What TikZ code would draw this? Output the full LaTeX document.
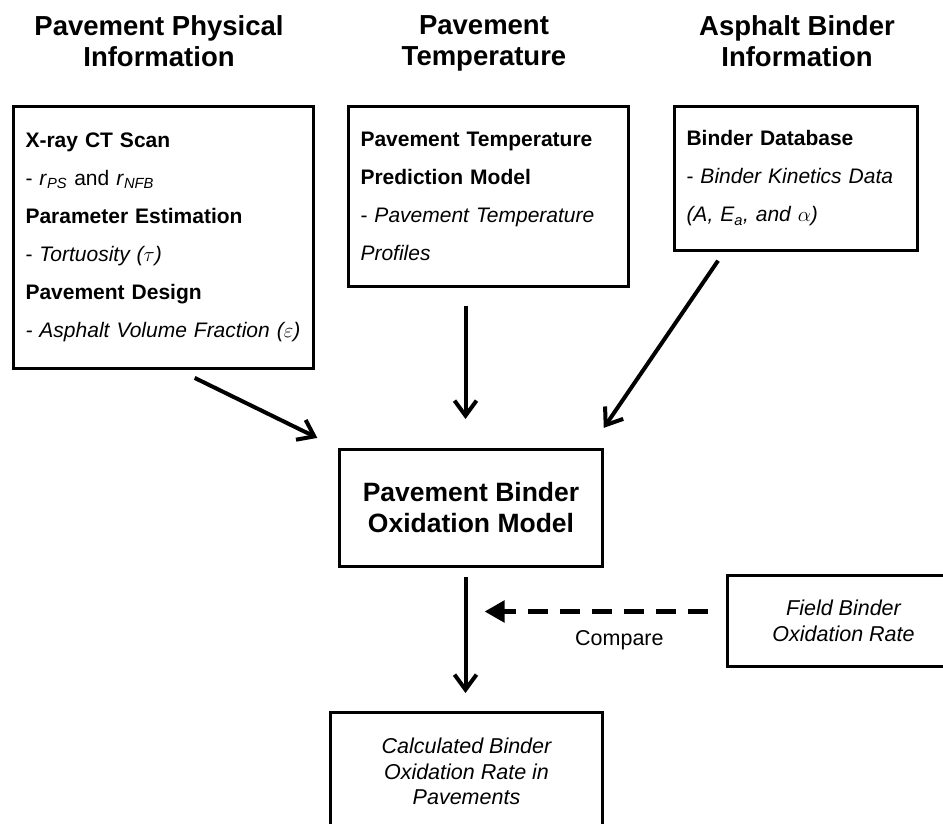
\documentclass[tikz,border=0pt]{standalone}
\usepackage{fontspec}
\setmainfont{Liberation Sans}
\usetikzlibrary{arrows.meta,positioning}

\tikzset{
	box/.style={draw,line width=3pt,anchor=north west,inner xsep=12pt,inner ysep=0pt},
	info/.style={box,align=left,font=\fontsize{21}{38}\selectfont},
	result/.style={box,align=center,font=\fontsize{21.5}{25.5}\selectfont\itshape},
	heading/.style={align=center,anchor=north,inner sep=0pt,font=\fontsize{27.5}{31}\selectfont\bfseries},
	arr/.style={line width=4pt,-{Straight Barb[length=15pt,width=22pt]}},
	cmp/.style={line width=5pt,dash pattern=on 20pt off 12pt,-{Triangle[length=20pt,width=21pt]}}
}

\begin{document}
\begin{tikzpicture}[x=1pt,y=-1pt]
	\useasboundingbox (0,0) rectangle (943,824);

	\node[heading] (hphys) at (159,15) {Pavement Physical\\Information};
	\node[heading] (htemp) at (484,15) {Pavement\\Temperature};
	\node[heading] (hbind) at (797,15) {Asphalt Binder\\Information};

	\node[info,minimum width=300pt,minimum height=262pt,text width=276pt] (phys) at (12,105)
		{\textbf{X-ray CT Scan}\\
		- \textit{r}\textsubscript{\textit{PS}} and \textit{r}\textsubscript{\textit{NFB}}\\
		\textbf{Parameter Estimation}\\
		- \textit{Tortuosity ($\tau$)}\\
		\textbf{Pavement Design}\\
		\textit{- Asphalt Volume Fraction ($\varepsilon$)}};
	\node[info,minimum width=280pt,minimum height=180pt,text width=256pt] (temp) at (347,105)
		{\textbf{Pavement Temperature}\\
		\textbf{Prediction Model}\\
		- \textit{Pavement Temperature}\\
		\textit{Profiles}};
	\node[info,minimum width=243pt,minimum height=144pt,text width=219pt] (bind) at (673,105)
		{\textbf{Binder Database}\\
		- \textit{Binder Kinetics Data}\\
		\textit{(A, E\textsubscript{a}, and $\alpha$)}};

	\node[box,align=center,font=\fontsize{26.5}{31}\selectfont\bfseries,minimum width=263pt,minimum height=117pt] (model) at (338,448)
		{Pavement Binder\\Oxidation Model};
	\node[result,minimum width=232pt,minimum height=91pt] (field) at (726,574)
		{Field Binder\\Oxidation Rate};
	\node[result,minimum width=272pt,minimum height=118pt] (calc) at (329,711)
		{Calculated Binder\\Oxidation Rate in\\Pavements};
	\node[font=\fontsize{21.5}{25}\selectfont,anchor=west,inner xsep=0pt] (cmptext) at (575,640) {Compare};

	\coordinate (mid) at ([xshift=-5.5pt]model.south);

	\draw[arr,shorten <=18pt,shorten >=23pt] ([xshift=15pt]phys.south) -- (model.north west);
	\draw[arr,shorten <=18pt,shorten >=29pt] (mid |- temp.south) -- (mid |- model.north);
	\draw[arr,shorten <=10.5pt,shorten >=24.4pt] ([xshift=-72pt]bind.south) -- ([xshift=-14pt]model.north east);
	\draw[arr,shorten <=9pt,shorten >=18pt] (mid) -- (mid |- calc.north);
	\draw[cmp,shorten <=18pt,shorten >=19pt] ([yshift=9.5pt]field.west) -- ([yshift=9.5pt]field.west -| mid);
\end{tikzpicture}
\end{document}
